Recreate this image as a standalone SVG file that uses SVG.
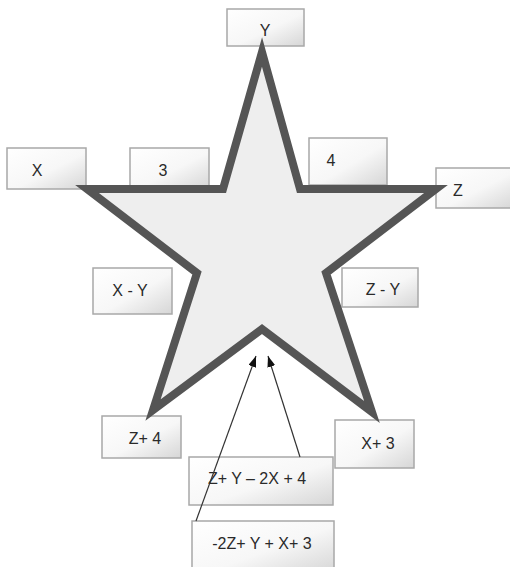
<svg xmlns="http://www.w3.org/2000/svg" width="510" height="567" viewBox="0 0 510 567">
<defs>
<linearGradient id="bg" x1="0" y1="0" x2="1" y2="1">
<stop offset="0" stop-color="#ffffff"/>
<stop offset="0.55" stop-color="#f7f7f7"/>
<stop offset="1" stop-color="#d6d6d6"/>
</linearGradient>
<marker id="ah" markerWidth="11" markerHeight="8" refX="11" refY="4" orient="auto" markerUnits="userSpaceOnUse">
<path d="M0,0 L11,4 L0,8 Z" fill="#111"/>
</marker>
</defs>
<style>
.box{fill:url(#bg);stroke:#a8a8a8;stroke-width:1.5}
.lbl{font-family:"Liberation Sans",Arial,sans-serif;font-size:16px;fill:#2a2a2a;text-anchor:middle;dominant-baseline:central}
.star{fill:#eeeeee;stroke:#555555;stroke-width:8;stroke-linejoin:miter;stroke-miterlimit:6}
.conn{stroke:#333;stroke-width:1.2;fill:none}
</style>
<rect width="510" height="567" fill="#ffffff"/>
<g id="nodeY"><rect class="box" x="227" y="9" width="77" height="37"/><text class="lbl" x="265" y="30">Y</text></g>
<g id="nodeX"><rect class="box" x="7" y="148" width="79" height="41"/><text class="lbl" x="37" y="170">X</text></g>
<g id="node3"><rect class="box" x="130" y="148" width="79" height="41"/><text class="lbl" x="163" y="170">3</text></g>
<g id="node4"><rect class="box" x="309" y="138" width="78" height="47"/><text class="lbl" x="331" y="160">4</text></g>
<g id="nodeZ"><rect class="box" x="436" y="168" width="78" height="40"/><text class="lbl" x="458" y="190">Z</text></g>
<g id="nodeXY"><rect class="box" x="93" y="268" width="79" height="46"/><text class="lbl" x="130" y="290">X - Y</text></g>
<g id="nodeZY"><rect class="box" x="342" y="268" width="76" height="39"/><text class="lbl" x="383" y="289">Z - Y</text></g>
<g id="nodeZ4"><rect class="box" x="102" y="416" width="79" height="42"/><text class="lbl" x="145" y="438">Z+ 4</text></g>
<g id="nodeX3"><rect class="box" x="335" y="420" width="79" height="48"/><text class="lbl" x="378" y="443">X+ 3</text></g>
<g id="nodeA"><rect class="box" x="189" y="457" width="144" height="48"/><text class="lbl" x="257" y="478">Z+ Y – 2X + 4</text></g>
<g id="nodeB"><rect class="box" x="192" y="521" width="142" height="52"/><text class="lbl" x="262" y="543">-2Z+ Y + X+ 3</text></g>
<g id="star"><path class="star" d="M262,52 L300,189 L436,189 L326,273 L372,412 L262,329 L153,410 L197,273 L87,189 L223,189 Z"/></g>
<g id="connectors">
<line class="conn" x1="196" y1="521" x2="256" y2="356" marker-end="url(#ah)"/>
<line class="conn" x1="300" y1="457" x2="268" y2="356" marker-end="url(#ah)"/>
</g>
</svg>
